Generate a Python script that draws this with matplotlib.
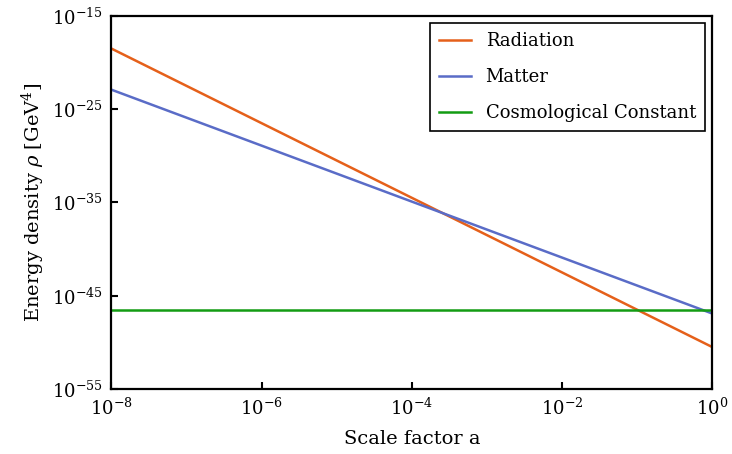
import matplotlib
matplotlib.use("Agg")
import matplotlib.pyplot as plt

# Scale factor range and energy densities (GeV^4) at both ends
scale_factor = [1e-8, 1.0]
radiation = [3.2e-19, 3.2e-51]
matter = [1.25e-23, 1.25e-47]
cosmo_const = [2.8e-47, 2.8e-47]

labels = ["Radiation", "Matter", "Cosmological Constant"]
colors = ["#e5601a", "#5a6cc7", "#139c13"]

plt.rcParams["font.family"] = "DejaVu Serif"
plt.rcParams["mathtext.fontset"] = "dejavuserif"

fig = plt.figure(figsize=(7.32, 4.54), dpi=100)
ax = fig.add_axes([0.152, 0.143, 0.821, 0.822])

for y, lab, c in zip([radiation, matter, cosmo_const], labels, colors):
    ax.plot(scale_factor, y, color=c, lw=1.8, label=lab)

ax.set_xscale("log")
ax.set_yscale("log")
ax.set_xlim(1e-8, 1)
ax.set_ylim(1e-55, 1e-15)
ax.set_xticks([1e-8, 1e-6, 1e-4, 1e-2, 1])
ax.set_yticks([1e-55, 1e-45, 1e-35, 1e-25, 1e-15])
ax.minorticks_off()
ax.tick_params(direction="in", length=5, width=1.5, labelsize=13, pad=6)

for s in ax.spines.values():
    s.set_linewidth(1.6)

ax.set_xlabel("Scale factor a", fontsize=14, labelpad=8)
ax.set_ylabel(r"Energy density $\rho$ [GeV$^4$]", fontsize=14)

leg = ax.legend(loc="upper right", fontsize=13, fancybox=False,
                edgecolor="black", framealpha=1, handlelength=1.8,
                labelspacing=1.0, borderpad=0.5, borderaxespad=0.4)
leg.get_frame().set_linewidth(1.2)

fig.savefig("out.png", dpi=100)
